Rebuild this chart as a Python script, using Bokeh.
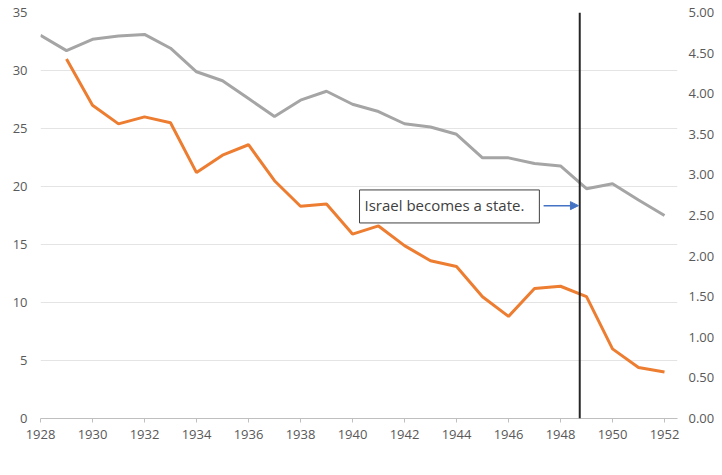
from bokeh.plotting import figure
from bokeh.models import (LinearAxis, Range1d, Span, Label, Arrow, NormalHead,
                          Legend, LegendItem, FixedTicker, PrintfTickFormatter)
from bokeh.embed import file_html
from bokeh.resources import INLINE

# ---- data ----
mat_years = [1929, 1930, 1931, 1932, 1933, 1934, 1935, 1936, 1937, 1938, 1939, 1940,
             1941, 1942, 1943, 1944, 1945, 1946, 1947, 1948, 1949, 1950, 1951, 1952]
maturity = [31.0, 27.0, 25.4, 26.0, 25.5, 21.2, 22.7, 23.6, 20.5, 18.3, 18.5, 15.9,
            16.6, 14.9, 13.6, 13.1, 10.5, 8.8, 11.2, 11.4, 10.5, 6.0, 4.4, 4.0]

rate_years = [1928, 1929, 1930, 1931, 1932, 1933, 1934, 1935, 1936, 1937, 1938, 1939, 1940,
              1941, 1942, 1943, 1944, 1945, 1946, 1947, 1948, 1949, 1950, 1951, 1952]
rate = [4.72, 4.53, 4.67, 4.71, 4.73, 4.56, 4.27, 4.16, 3.94, 3.72, 3.92, 4.03, 3.87,
        3.78, 3.63, 3.59, 3.50, 3.21, 3.21, 3.14, 3.11, 2.83, 2.89, 2.69, 2.50]

x_ticks = [1928, 1930, 1932, 1934, 1936, 1938, 1940, 1942, 1944, 1946, 1948, 1950, 1952]
left_ticks = [0, 5, 10, 15, 20, 25, 30, 35]
right_ticks = [0.0, 0.5, 1.0, 1.5, 2.0, 2.5, 3.0, 3.5, 4.0, 4.5, 5.0]

event_year = 1948.74
event_text = "Israel becomes a state."
label_maturity = "Years from Average Final Maturity (left scale)"
label_rate = "Average Interest Rate (%) (right scale)"

ORANGE = "#ED7D31"
GRAY = "#A5A5A5"
TICK_COLOR = "#595959"
FONT = "Open Sans"

p = figure(width=722, height=475, frame_width=637, frame_height=406,
           x_range=Range1d(1928, 1952.5), y_range=Range1d(0, 35),
           output_backend="svg", toolbar_location=None,
           min_border_left=40, min_border_right=45, min_border_top=12, min_border_bottom=0)
p.outline_line_color = None
p.background_fill_color = "white"
p.border_fill_color = "white"
p.extra_y_ranges = {"rate": Range1d(0, 5)}

# grid
p.xgrid.grid_line_color = None
p.ygrid.grid_line_color = "#E4E4E4"
p.ygrid.grid_line_width = 1

# x axis
xa = p.xaxis[0]
xa.axis_label = None
xa.axis_label_standoff = 0
xa.ticker = FixedTicker(ticks=x_ticks)
xa.axis_line_color = "#BFBFBF"
xa.major_tick_line_color = "#BFBFBF"
xa.major_tick_in = 0
xa.major_tick_out = 4
xa.minor_tick_line_color = None
xa.minor_tick_in = 0
xa.minor_tick_out = 0
xa.major_label_text_font = FONT
xa.major_label_text_font_size = "13px"
xa.major_label_text_color = TICK_COLOR
xa.major_label_standoff = 7

# left axis
ya = p.yaxis[0]
ya.axis_label = None
ya.ticker = FixedTicker(ticks=left_ticks)
ya.axis_line_color = None
ya.major_tick_line_color = None
ya.minor_tick_line_color = None
ya.major_tick_in = 0
ya.major_tick_out = 0
ya.minor_tick_in = 0
ya.minor_tick_out = 0
ya.major_label_text_font = FONT
ya.major_label_text_font_size = "13px"
ya.major_label_text_color = TICK_COLOR
ya.major_label_standoff = 13

# right axis
ra = LinearAxis(y_range_name="rate", ticker=FixedTicker(ticks=right_ticks),
                formatter=PrintfTickFormatter(format="%.2f"), axis_label=None)
ra.axis_line_color = None
ra.major_tick_line_color = None
ra.minor_tick_line_color = None
ra.major_tick_in = 0
ra.major_tick_out = 0
ra.minor_tick_in = 0
ra.minor_tick_out = 0
ra.major_label_text_font = FONT
ra.major_label_text_font_size = "13px"
ra.major_label_text_color = TICK_COLOR
ra.major_label_standoff = 11
p.add_layout(ra, "right")

# series
r_rate = p.line(rate_years, rate, y_range_name="rate", line_color=GRAY, line_width=3)
r_mat = p.line(mat_years, maturity, line_color=ORANGE, line_width=3)

# event line
p.add_layout(Span(location=event_year, dimension="height", line_color="#262626", line_width=2))

# annotation
p.add_layout(Label(x=1940.27, y=18.28, text=event_text, text_font=FONT, text_font_size="15px",
                   text_color="#404040", text_baseline="middle",
                   border_line_color="#404040", border_line_width=1,
                   background_fill_color="white", padding=(5, 15, 5, 8)))
p.add_layout(Arrow(x_start=1947.35, y_start=18.35, x_end=event_year - 0.05, y_end=18.35,
                   line_color="#4472C4", line_width=1.5,
                   end=NormalHead(size=8, fill_color="#4472C4", line_color="#4472C4")))

# legend
legend = Legend(items=[LegendItem(label=label_maturity, renderers=[r_mat]),
                       LegendItem(label=label_rate, renderers=[r_rate])],
                location="top_left", orientation="horizontal",
                label_text_font=FONT, label_text_font_style="bold",
                label_text_font_size="14px", label_text_color="#404040",
                glyph_width=23, glyph_height=16, label_height=16,
                label_standoff=2, spacing=30, padding=0, margin=0,
                border_line_color=None, background_fill_alpha=0)
p.add_layout(legend, "below")

open("out.html", "w").write(file_html(p, INLINE))
